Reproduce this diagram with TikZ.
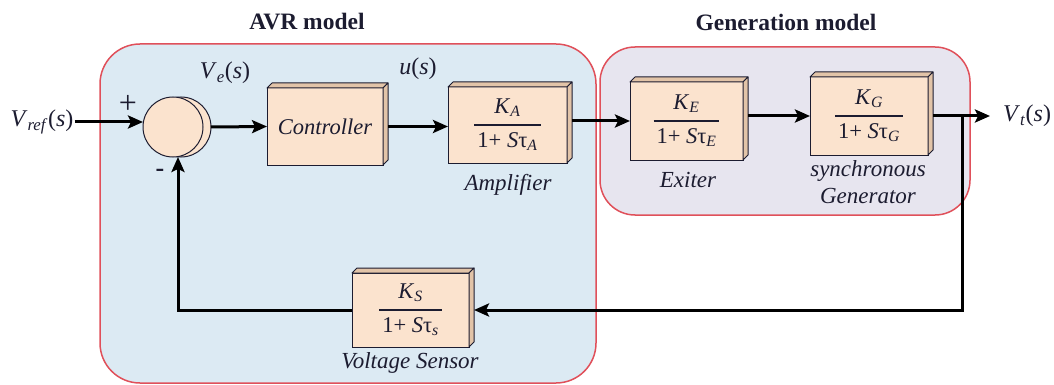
\documentclass[tikz,border=0pt]{standalone}
\usepackage{fontspec}
\setmainfont{Liberation Serif}[UprightFont=*, ItalicFont=* Italic, BoldFont=* Bold]
\newfontfamily\tms{Liberation Serif}[UprightFont=*, ItalicFont=* Italic, BoldFont=* Bold]
\usetikzlibrary{arrows.meta,calc}
\definecolor{avrfill}{HTML}{DCEAF3}
\definecolor{genfill}{HTML}{E7E5EF}
\definecolor{framered}{HTML}{E0505A}
\definecolor{blkfill}{HTML}{FBE3CE}
\definecolor{blkdark}{HTML}{E2C4A8}
\definecolor{ink}{HTML}{1C1C30}
\newcommand{\myfrac}[2]{{\setlength{\arrayrulewidth}{1.5pt}\tms\upshape\begin{tabular}{@{\hspace{3pt}}c@{\hspace{3pt}}}#1\\[3pt]\hline\rule{0pt}{22pt}#2\end{tabular}}}
\newcommand{\boxdepth}[1]{%
  \filldraw[fill=blkdark,draw=ink,line width=1pt,line join=round] (#1.north west) -- ++(5,-5) -- ($(#1.north east)+(5,-5)$) -- (#1.north east) -- cycle;
  \filldraw[fill=blkdark,draw=ink,line width=1pt,line join=round] (#1.north east) -- ++(5,-5) -- ($(#1.south east)+(5,-5)$) -- (#1.south east) -- cycle;}
\begin{document}
\begin{tikzpicture}[x=1pt,y=-1pt,
  group/.style={fill=#1,draw=framered,line width=1.5pt},
  title/.style={font=\tms\bfseries\fontsize{23.5}{27}\selectfont,text=ink},
  lbl/.style={font=\tms\fontsize{24}{27}\selectfont,text=ink,inner sep=1pt},
  itlbl/.style={lbl,font=\tms\itshape\fontsize{23}{27}\selectfont},
  blockbox/.style={draw=ink,line width=1pt,fill=blkfill,inner sep=0pt,outer sep=0pt,
    font=\tms\itshape\fontsize{22.5}{27}\selectfont,text=ink},
  sumc/.style={circle,draw=ink,line width=1pt,fill=blkfill,minimum size=60pt,inner sep=0pt,outer sep=0pt},
  conn/.style={draw=black,line width=3pt,-{Stealth[length=15pt,width=13pt,inset=3pt]}}]
\useasboundingbox (0,0) rectangle (1054,385);
% group frames
\draw[group=avrfill,rounded corners=40pt] (100,44) rectangle (596,383);
\draw[group=genfill,rounded corners=35pt] (600,47) rectangle (970,215);
\node[title] (avrt) at (307,22) {AVR model};
\node[title] (gent) at (786,22) {Generation model};
% summing junction
\node[sumc] (sumsh) at (181,127) {};
\node[sumc] (sum) at (173,127) {};
% blocks
\node[blockbox,minimum width=116pt,minimum height=77pt] (ctrl) at (325,126.5) {Controller};
\node[blockbox,minimum width=119pt,minimum height=76pt] (amp) at (507.5,125)
  {\myfrac{\textit{K}\textsubscript{\textit{A}}}{1+ \textit{S}τ\textsubscript{\textit{A}}}};
\node[blockbox,minimum width=113pt,minimum height=78pt] (exc) at (686.5,121)
  {\myfrac{\textit{K}\textsubscript{\textit{E}}}{1+ \textit{S}τ\textsubscript{\textit{E}}}};
\node[blockbox,minimum width=118pt,minimum height=78pt] (gen) at (869,116)
  {\myfrac{\textit{K}\textsubscript{\textit{G}}}{1+ \textit{S}τ\textsubscript{\textit{G}}}};
\node[blockbox,minimum width=117pt,minimum height=74pt] (sens) at (410.5,310)
  {\myfrac{\textit{K}\textsubscript{\textit{S}}}{1+ \textit{S}τ\textsubscript{\textit{s}}}};
\boxdepth{ctrl}\boxdepth{amp}\boxdepth{exc}\boxdepth{gen}\boxdepth{sens}
% labels
\node[lbl] (vref) at (42,122) {\textit{V}\textsubscript{\textit{ref}}(\textit{s})};
\node[lbl] (ve) at (225,73) {\textit{V}\textsubscript{\textit{e}}(\textit{s})};
\node[lbl] (us) at (418,69) {\textit{u}(\textit{s})};
\node[lbl,anchor=west] (vt) at (1002,116) {\textit{V}\textsubscript{\textit{t}}(\textit{s})};
\node[lbl,font=\tms\fontsize{32}{34}\selectfont] (plus) at (128,104) {+};
\node[lbl,font=\tms\bfseries\fontsize{26}{27}\selectfont] (minus) at (160,173) {-};
\node[itlbl] (ampl) at (508,185) {Amplifier};
\node[itlbl] (excl) at (688,180) {Exiter};
\node[itlbl,align=center] (genl) at (868,182) {synchronous\\Generator};
\node[itlbl] (sensl) at (410,363) {Voltage Sensor};
% connectors
\coordinate (vout) at (990,116);
\coordinate (br) at (962,116);
\draw[conn] (vref.east) -- (vref.east -| sum.west);
\draw[conn] (sumsh.east) -- (ctrl.west);
\draw[conn] ([xshift=5pt]ctrl.east) -- (ctrl.east -| amp.west);
\draw[conn] ([xshift=5pt]amp.east |- exc.west) -- (exc.west);
\draw[conn] ([xshift=5pt]exc.east |- gen.west) -- (gen.west);
\draw[conn] ([xshift=5pt]gen.east) -- (vout);
\draw[conn] (br) |- ([xshift=5pt]sens.east);
\draw[conn] (sens.west) -| ([xshift=5pt]sum.south);
\end{tikzpicture}
\end{document}
